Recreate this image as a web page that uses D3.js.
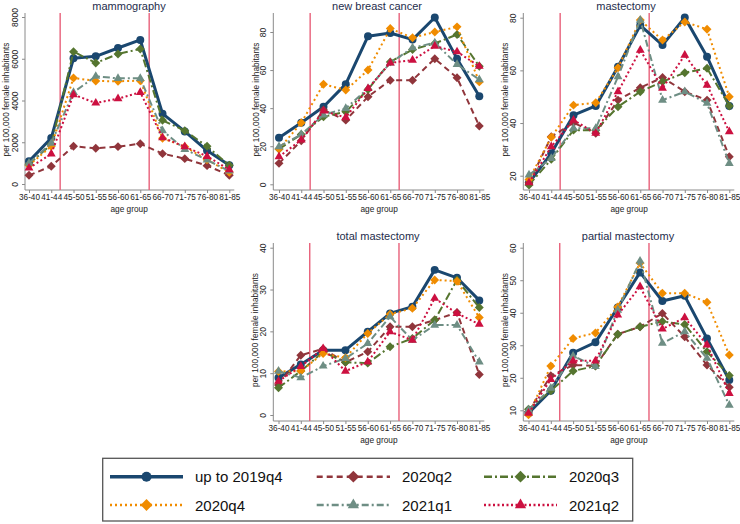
<!DOCTYPE html>
<html><head><meta charset="utf-8">
<script src="https://cdn.jsdelivr.net/npm/d3@7"></script>
<style>body{margin:0;background:#fff}svg{display:block;font-family:"Liberation Sans",Arial,sans-serif}</style>
</head><body>
<svg id="c" width="740" height="524"></svg>
<script>
// ---------- data ----------
const ageGroups = ["36-40","41-44","45-50","51-55","56-60","61-65","66-70","71-75","76-80","81-85"];
const ageMid = [38,43,48,53,58,63,68,73,78,83];
const cutoffAges = [45,65];
const seriesNames = ["up to 2019q4","2020q2","2020q3","2020q4","2021q1","2021q2"];

// each panel: one row per series (order as seriesNames)
const mammography = [
  [1085,2200,6020,6115,6515,6900,3370,2520,1600,895],
  [415,850,1805,1710,1790,1930,1455,1215,880,415],
  [950,1900,6340,5800,6230,6470,3050,2555,1805,895],
  [895,1805,5080,4935,4920,4950,2190,1790,1165,560],
  [1000,1950,4390,5160,5060,5060,2555,1660,1150,620],
  [765,1440,4280,3880,4090,4390,2220,1790,1325,690]
];
const newBreastCancer = [
  [24.5,32.3,40.7,52.6,77.8,79.5,76,87.6,66,46.3],
  [11,22.9,39,33.7,46,54.7,54.7,66,56,30.6],
  [18.5,26.2,35.5,38.1,49.8,64.3,70.8,74,78.7,62],
  [18.5,32.3,52.6,49.5,60,81.8,77,80,82.7,53.8],
  [19.8,26.2,36.4,39.9,50.3,63.8,71.7,74.3,63,55],
  [14.5,23.3,38.5,35.1,50.3,63.8,65.2,72.6,69.6,62]
];
const mastectomy = [
  [17.3,28.5,43,46.5,61.4,77.1,69.6,80.1,65.2,46.5],
  [17.3,34.8,40.1,36.1,48.7,53.4,57.3,51.9,48.7,27.2],
  [16.5,26.2,37.3,37.3,46.2,51.9,55.7,59.1,60.8,46.5],
  [18.6,34.6,46.8,47.7,61,79.1,71.5,78.4,75.6,50],
  [20.3,26.6,38,38,57.6,79.1,48.7,51.9,47.5,24.7],
  [17.3,31,41.1,36.1,51.9,67.7,53.2,65.8,54.4,36.7]
];
const totalMastectomy = [
  [8.9,12.1,15.5,15.5,19.9,24.3,25.9,34.7,32.8,27.4],
  [7.2,14.3,15.8,12.6,15.1,21.1,21.1,22.7,24.5,9.7],
  [6.5,10.5,15.1,12.6,12.4,16.3,18.3,22.7,32.3,25.7],
  [10.4,10.5,14.7,13.7,19.5,24.1,25.5,32.3,32,23.3],
  [10.5,8.9,11.7,13.5,17.1,23.5,17.9,21.5,21.5,12.7],
  [8.1,11.6,15.9,10.5,12.7,19.9,17.9,27.9,24.3,21.7]
];
const partialMastectomy = [
  [9.1,16,27.7,30.9,41.6,52.4,43.6,45.2,32.1,19.3],
  [9.6,20.6,23.9,23.7,33.4,35.7,39.8,32.6,23.9,17.1],
  [10.3,16,22.1,23.6,33.4,35.7,37.3,36.4,28,20.7],
  [8.6,23.6,32.1,33.8,41.8,55.3,46,46,43.2,27],
  [10.1,16.8,26.7,23.5,40.8,55.9,30.6,34.2,26,11.6],
  [9.1,19.5,25.2,25.2,39.3,48,35,38.5,30.1,15.2]
];
const mammographyTicks = [0,2000,4000,6000,8000];
const newBreastCancerTicks = [0,20,40,60,80];
const mastectomyTicks = [20,40,60,80];
const totalMastectomyTicks = [0,10,20,30,40];
const partialMastectomyTicks = [10,20,30,40,50,60];

// ---------- styles / layout ----------
const styles = [
  {color:"#1a476f", width:3,   dash:null,        marker:"circle"},
  {color:"#90353b", width:2,   dash:"6,4",       marker:"diamond"},
  {color:"#55752f", width:2,   dash:"8,3,2,3",   marker:"diamond"},
  {color:"#f08c00", width:2,   dash:"2,3",       marker:"diamond"},
  {color:"#6e8e84", width:2,   dash:"7,3,2,3",   marker:"triangle"},
  {color:"#cc1040", width:2,   dash:"2,2.5",     marker:"triangle"}
];
const panels = [
  {title:"mammography", data:mammography, ticks:mammographyTicks,
   axisX:25, x0:29, x1:229.3, top:13, bottom:190, a:[0,184], b:[8000,17], titleX:129, ylabX:6},
  {title:"new breast cancer", data:newBreastCancer, ticks:newBreastCancerTicks,
   axisX:273.3, x0:279, x1:479.3, top:13, bottom:190, a:[0,184.3], b:[80,32], titleX:377, ylabX:256},
  {title:"mastectomy", data:mastectomy, ticks:mastectomyTicks,
   axisX:523.3, x0:529, x1:729.3, top:13, bottom:190, a:[20,175.7], b:[80,17.7], titleX:626, ylabX:505},
  {title:"total mastectomy", data:totalMastectomy, ticks:totalMastectomyTicks,
   axisX:273.3, x0:278.5, x1:479.3, top:243, bottom:421, a:[0,415], b:[40,247.7], titleX:378, ylabX:255},
  {title:"partial mastectomy", data:partialMastectomy, ticks:partialMastectomyTicks,
   axisX:523.3, x0:528.5, x1:729.3, top:243, bottom:421, a:[10,410.3], b:[60,247.7], titleX:628, ylabX:505}
];

const svg = d3.select("#c");
const axisColor = "#8a8a8a";
const textColor = "#222";

function markerPath(type, big){
  if(type==="circle") return d3.symbol(d3.symbolCircle, big?80:50)();
  if(type==="diamond") return d3.symbol(d3.symbolSquare, big?70:40)();
  return d3.symbol(d3.symbolTriangle, big?55:34)();
}
function markerRot(type){ return type==="diamond" ? " rotate(45)" : ""; }

panels.forEach(p=>{
  const g = svg.append("g");
  const x = d3.scaleLinear().domain([ageMid[0], ageMid[ageMid.length-1]]).range([p.x0, p.x1]);
  const slope = (p.b[1]-p.a[1])/(p.b[0]-p.a[0]);
  const yMin = p.a[0] + (p.bottom - p.a[1])/slope;
  const yMax = p.a[0] + (p.top - p.a[1])/slope;
  const y = d3.scaleLinear().domain([yMin, yMax]).range([p.bottom, p.top]);

  g.append("text").attr("x", p.titleX).attr("y", p.top - 7).attr("text-anchor","middle")
    .attr("dominant-baseline","central").attr("font-size", 11).attr("fill","#1e2d4c")
    .text(p.title);

  const yAxis = d3.axisLeft(y).tickValues(p.ticks).tickSize(3).tickPadding(2).tickFormat(d3.format("d"));
  const ya = g.append("g").attr("transform",`translate(${p.axisX},0)`).call(yAxis);
  ya.select(".domain").attr("stroke",axisColor).attr("d",`M0,${p.top}V${p.bottom}`);
  ya.selectAll(".tick line").attr("stroke",axisColor);
  ya.selectAll(".tick text").attr("font-size",8.5).attr("fill",textColor)
    .attr("font-family",'"Liberation Sans",Arial,sans-serif')
    .attr("text-anchor","middle").attr("dy",0).attr("x",0).attr("y",0)
    .attr("transform","translate(-7,0) rotate(-90)");

  const xAxis = d3.axisBottom(x).tickValues(ageMid).tickSize(3).tickPadding(1)
    .tickFormat((d,i)=>ageGroups[i]);
  const xa = g.append("g").attr("transform",`translate(0,${p.bottom})`).call(xAxis);
  xa.select(".domain").attr("stroke",axisColor).attr("d",`M${p.axisX},0H${p.x1+5}`);
  xa.selectAll(".tick line").attr("stroke",axisColor);
  xa.selectAll(".tick text").attr("font-size",8.2).attr("fill",textColor)
    .attr("font-family",'"Liberation Sans",Arial,sans-serif');

  g.append("text").attr("x",(p.x0+p.x1)/2).attr("y",p.bottom+18.5).attr("text-anchor","middle")
    .attr("dominant-baseline","central").attr("font-size",8.3).attr("fill",textColor).text("age group");
  g.append("text").attr("transform",`translate(${p.ylabX},${(p.top+p.bottom)/2 - 2}) rotate(-90)`)
    .attr("text-anchor","middle").attr("dominant-baseline","central").attr("font-size",8.3)
    .attr("fill",textColor).text("per 100,000 female inhabitants");

  g.selectAll("line.cut").data(cutoffAges).enter().append("line")
    .attr("x1",d=>x(d)).attr("x2",d=>x(d)).attr("y1",p.top).attr("y2",p.bottom)
    .attr("stroke","#e8607a").attr("stroke-width",1.4);

  const line = d3.line().x((d,i)=>x(ageMid[i])).y(d=>y(d));
  p.data.forEach((vals,si)=>{
    const s = styles[si];
    g.append("path").attr("d", line(vals)).attr("fill","none").attr("stroke",s.color)
      .attr("stroke-width",s.width).attr("stroke-dasharray",s.dash)
      .attr("stroke-linejoin","round");
    g.selectAll(null).data(vals).enter().append("path")
      .attr("d", markerPath(s.marker,false))
      .attr("transform",(d,i)=>`translate(${x(ageMid[i])},${y(d)})${markerRot(s.marker)}`)
      .attr("fill",s.color);
  });
});

// ---------- legend ----------
const lg = svg.append("g");
lg.append("rect").attr("x",102.7).attr("y",458.3).attr("width",530).attr("height",62.7)
  .attr("fill","#fff").attr("stroke","#555").attr("stroke-width",1.3);
const colX = [[110,183,195],[316.7,390,402],[484,557,569]];
const rowY = [476.7,505];
seriesNames.forEach((name,i)=>{
  const s = styles[i];
  const c = colX[i%3], ry = rowY[Math.floor(i/3)];
  lg.append("line").attr("x1",c[0]).attr("x2",c[1]).attr("y1",ry).attr("y2",ry)
    .attr("stroke",s.color).attr("stroke-width",s.width+0.5).attr("stroke-dasharray",s.dash);
  lg.append("path").attr("d",markerPath(s.marker,true))
    .attr("transform",`translate(${(c[0]+c[1])/2},${ry})${markerRot(s.marker)}`).attr("fill",s.color);
  lg.append("text").attr("x",c[2]).attr("y",ry).attr("dominant-baseline","central")
    .attr("font-size",15).attr("fill","#111").text(name);
});
</script>
</body></html>
